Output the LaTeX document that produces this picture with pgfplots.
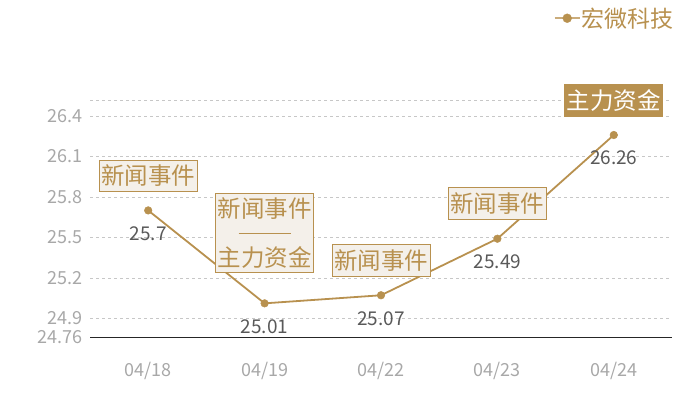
\documentclass[border=0pt]{standalone}
\usepackage{fontspec}
\setmainfont{Noto Sans CJK SC}
\usepackage{pgfplots}
\pgfplotsset{compat=1.18}
\definecolor{gold}{HTML}{B8914F}
\definecolor{boxfill}{HTML}{F4F0EA}
\definecolor{ticklab}{HTML}{A8A8A8}
\definecolor{datalab}{HTML}{595959}
\begin{document}
\begin{tikzpicture}[x=1pt,y=1pt]
\path[use as bounding box] (0,0) rectangle (700,400);
\begin{axis}[
  at={(90pt,63pt)}, anchor=south west,
  width=582pt, height=237pt, scale only axis,
  xmin=-0.5, xmax=4.5, ymin=24.76, ymax=26.52,
  xtick={0,1,2,3,4}, xticklabels={04/18,04/19,04/22,04/23,04/24},
  ytick={24.9,25.2,25.5,25.8,26.1,26.4,26.52},
  yticklabels={24.9,25.2,25.5,25.8,26.1,26.4,{}},
  extra y ticks={24.76}, extra y tick labels={24.76},
  extra y tick style={ymajorgrids=false},
  major tick length=0pt,
  axis x line*=bottom,
  y axis line style={draw=none},
  x axis line style={draw=black!85, line width=0.9pt},
  ymajorgrids, grid style={dashed, draw=black!22, line width=0.5pt},
  tick label style={text=ticklab, font=\fontsize{18}{18}\selectfont},
  xticklabel style={yshift=-22pt},
  yticklabel style={xshift=-4pt},
  /pgf/number format/assume math mode=true,
  clip=false,
  legend style={at={(axis description cs:1.01,1.345)}, anchor=east, draw=none, fill=none,
    font=\fontsize{23}{23}\selectfont, text=gold, nodes={inner sep=1pt}},
  legend image post style={scale=1.4},
  legend image code/.code={%
    \draw[gold!75, line width=1.6pt] (0pt,0pt) -- (18pt,0pt);
    \draw[mark repeat=2, mark phase=2, draw=none, mark=*, mark size=3.2pt,
      mark options={fill=gold, draw=gold, line width=0.3pt}]
      plot coordinates {(0pt,0pt) (9pt,0pt) (18pt,0pt)};},
]
\addplot[gold, line width=1.8pt, mark=*, mark size=3.8pt,
  mark options={fill=gold, draw=gold, line width=0.5pt},
  nodes near coords, point meta=explicit symbolic,
  every node near coord/.style={anchor=center, yshift=-23pt, text=datalab,
    font=\fontsize{19}{19}\selectfont}]
  coordinates {(0,25.7)[25.7] (1,25.01)[25.01] (2,25.07)[25.07] (3,25.49)[25.49] (4,26.26)[26.26]};
\addlegendentry{宏微科技}
\tikzset{abox/.style={draw=gold, fill=boxfill, text=gold, line width=0.9pt,
  font=\fontsize{23.5}{23.5}\selectfont, inner xsep=2pt, inner ysep=5pt}}
\node[abox] at (axis cs:0,25.956) {新闻事件};
\node[abox, align=center, inner ysep=4pt] at (axis cs:1,25.53) {新闻事件\\[1pt]{\color{gold}\rule[0.35em]{52pt}{1.2pt}}\\[1pt]主力资金};
\node[abox] at (axis cs:2,25.33) {新闻事件};
\node[abox] at (axis cs:3,25.749) {新闻事件};
\node[abox, fill=gold, text=white] at (axis cs:4,26.516) {主力资金};
\end{axis}
\end{tikzpicture}
\end{document}
